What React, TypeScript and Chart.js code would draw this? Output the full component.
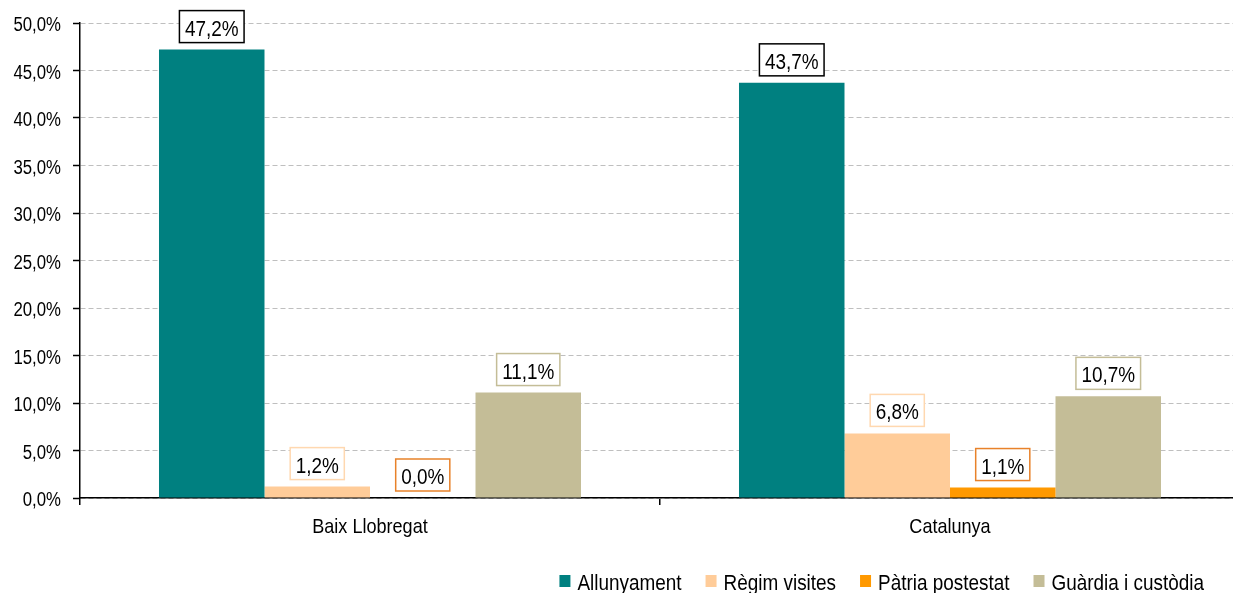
import React, { useEffect, useRef } from "react";
import { Chart, registerables } from "chart.js";

Chart.register(...registerables);

const categories = ["Baix Llobregat", "Catalunya"];
const seriesNames = ["Allunyament", "Règim visites", "Pàtria postestat", "Guàrdia i custòdia"];
const allunyament = [47.2, 43.7];
const regimVisites = [1.2, 6.8];
const patriaPostestat = [0.0, 1.1];
const guardiaCustodia = [11.1, 10.7];
const seriesColors = ["#008080", "#FFCC99", "#FF9900", "#C4BD97"];
const labelBorderColors = ["#000000", "#FFD8B0", "#E8822A", "#C4BD97"];
const yTicks = [0, 5, 10, 15, 20, 25, 30, 35, 40, 45, 50];

const FONT = "'Liberation Sans', Arial, sans-serif";
const NARROW = 0.86;

const fmt = (v: number) => v.toFixed(1).replace(".", ",") + "%";

function narrowText(ctx: any, text: string, x: number, y: number, size: number, align: CanvasTextAlign) {
  ctx.save();
  ctx.font = `${size}px ${FONT}`;
  ctx.textAlign = align;
  ctx.textBaseline = "alphabetic";
  ctx.translate(x, y);
  ctx.scale(NARROW, 1);
  ctx.fillText(text, 0, 0);
  ctx.restore();
}

function narrowWidth(ctx: any, text: string, size: number) {
  ctx.save();
  ctx.font = `${size}px ${FONT}`;
  const w = ctx.measureText(text).width * NARROW;
  ctx.restore();
  return w;
}

const labelsPlugin = {
  id: "boxLabels",
  afterDatasetsDraw(chart: any) {
    const ctx = chart.ctx;
    chart.data.datasets.forEach((ds: any, i: number) => {
      const meta = chart.getDatasetMeta(i);
      meta.data.forEach((bar: any, j: number) => {
        const text = fmt(ds.data[j]);
        const w = narrowWidth(ctx, text, 22) + 11;
        const h = 32;
        const bottom = bar.y - 7;
        const top = bottom - h;
        const left = bar.x - w / 2;
        ctx.save();
        ctx.fillStyle = "#ffffff";
        ctx.fillRect(left, top, w, h);
        ctx.lineWidth = 1.5;
        ctx.strokeStyle = labelBorderColors[i];
        ctx.strokeRect(left, top, w, h);
        ctx.fillStyle = "#000000";
        narrowText(ctx, text, bar.x, top + 25, 22, "center");
        ctx.restore();
      });
    });
  },
};

const textPlugin = {
  id: "axisTextAndLegend",
  afterDraw(chart: any) {
    const ctx = chart.ctx;
    ctx.save();
    ctx.fillStyle = "#000000";
    const ys = chart.scales.y;
    ys.ticks.forEach((t: any) => {
      const y = ys.getPixelForValue(t.value);
      narrowText(ctx, fmt(t.value), ys.right - 19, y + 8, 19.5, "right");
    });
    const xs = chart.scales.x;
    chart.data.labels.forEach((lab: string, i: number) => {
      narrowText(ctx, lab, xs.getPixelForValue(i), chart.chartArea.bottom + 35, 21, "center");
    });

    // legend
    const sqW = 11;
    const sqH = 12;
    const gapSqText = 7;
    const gapItems = 24;
    const legendSize = 22;
    const items = chart.data.datasets.map((d: any, i: number) => ({
      label: d.label,
      color: seriesColors[i],
      w: narrowWidth(ctx, d.label, legendSize),
    }));
    let total = 0;
    items.forEach((it: any, i: number) => {
      total += sqW + gapSqText + it.w + (i < items.length - 1 ? gapItems : 0);
    });
    let x = chart.chartArea.right - 36 - total;
    const baseY = chart.chartArea.bottom + 92;
    items.forEach((it: any) => {
      ctx.fillStyle = it.color;
      ctx.fillRect(x, baseY - 15, sqW, sqH);
      x += sqW + gapSqText;
      ctx.fillStyle = "#000000";
      narrowText(ctx, it.label, x, baseY, legendSize, "left");
      x += it.w + gapItems;
    });
    ctx.restore();
  },
};

export default function App() {
  const ref = useRef<HTMLCanvasElement>(null);
  useEffect(() => {
    document.body.style.margin = "0";
    const canvas = ref.current!;
    const seriesData = [allunyament, regimVisites, patriaPostestat, guardiaCustodia];
    const chart = new Chart(canvas, {
      type: "bar",
      data: {
        labels: categories,
        datasets: seriesNames.map((name, i) => ({
          label: name,
          data: seriesData[i],
          backgroundColor: seriesColors[i],
          borderWidth: 0,
          categoryPercentage: 0.7276,
          barPercentage: 1,
        })),
      },
      options: {
        animation: false,
        responsive: false,
        devicePixelRatio: 1,
        layout: { padding: { top: 23, right: 10, left: 0, bottom: 0 } },
        plugins: {
          legend: { display: false },
          tooltip: { enabled: false },
        },
        scales: {
          x: {
            grid: {
              display: true,
              drawOnChartArea: false,
              drawTicks: true,
              tickLength: 7,
              color: "#000000",
              tickColor: "#000000",
              lineWidth: 1.5,
              offset: true,
            },
            border: { display: true, color: "#000000", width: 1.5 },
            ticks: { display: false },
            afterFit: (scale: any) => {
              scale.height = 95;
            },
          },
          y: {
            min: 0,
            max: 50,
            afterBuildTicks: (scale: any) => {
              scale.ticks = yTicks.map((v) => ({ value: v }));
            },
            grid: {
              color: "#BFBFBF",
              lineWidth: 1,
              tickLength: 7,
              tickColor: "#000000",
              tickBorderDash: [],
              tickWidth: 1.5,
            },
            border: { display: true, color: "#000000", width: 1.5, dash: [5, 3] },
            ticks: { display: false },
            afterFit: (scale: any) => {
              scale.width = 80;
            },
          },
        },
      },
      plugins: [labelsPlugin, textPlugin],
    });
    return () => chart.destroy();
  }, []);
  return (
    <div style={{ width: 1233, height: 593, overflow: "hidden", background: "#ffffff" }}>
      <canvas ref={ref} width={1250} height={593} style={{ width: 1250, height: 593, display: "block" }} />
    </div>
  );
}
